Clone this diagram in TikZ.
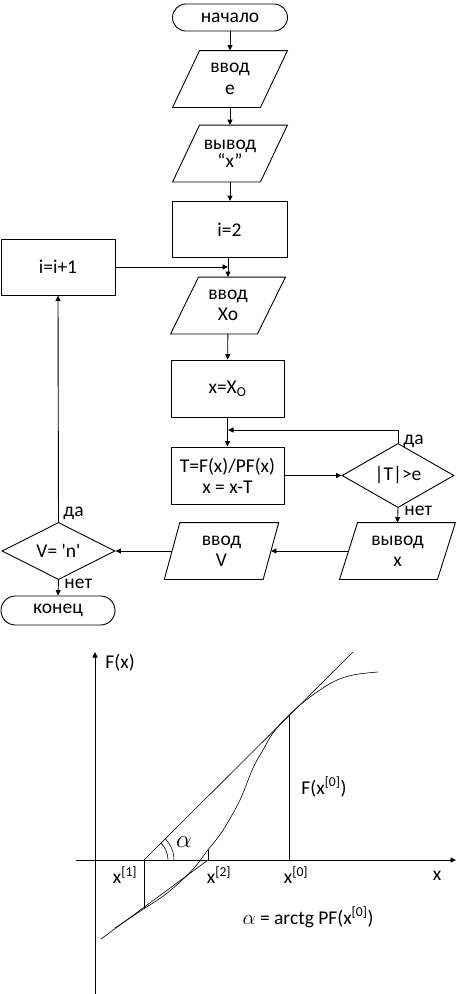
\documentclass[tikz,border=0pt]{standalone}
\usepackage{fontspec}
\setmainfont{Carlito}[Ligatures=TeXOff]
\usetikzlibrary{shapes.geometric,arrows.meta}
\newcommand\iodraw[2]{\draw ([xshift=#2/2]#1.north west) -- ([xshift=#2/2]#1.north east) -- ([xshift=-#2/2]#1.south east) -- ([xshift=-#2/2]#1.south west) -- cycle;}
\begin{document}
\begin{tikzpicture}[x=1pt,y=-1pt,
  every node/.style={font=\fontsize{19.5}{21}\selectfont, align=center, inner sep=0pt},
  term/.style={draw, rounded corners=13.5pt, minimum width=115pt, minimum height=27pt},
  proc/.style={draw, minimum width=114pt, minimum height=56pt},
  iobox/.style={minimum height=56pt},
  dec/.style={draw, diamond, minimum width=113pt, minimum height=56pt},
  arr/.style={-{Triangle[length=5.5pt,width=5pt]}},
  lbl/.style={anchor=west},
  thin/.style={line width=0.6pt},
  line width=0.9pt]
\useasboundingbox (0,0) rectangle (456,994);

% flowchart nodes
\node[term] (start) at (230,17.5) {начало};
\node[iobox, minimum width=87pt] (inE) at (230,79) {ввод\\[1pt]e};
\node[iobox, minimum width=87pt] (outX) at (230,153.5) {вывод\\[-3pt]“x”};
\node[proc, minimum width=115pt] (i2) at (229.5,229.5) {i=2};
\node[proc] (inc) at (58,267) {i=i+1};
\node[iobox, minimum width=86pt] (inX0) at (228,305.5) {ввод\\Xo};
\node[proc, minimum width=113pt, minimum height=57pt] (xeq) at (227.5,388.5) {x=X\textsubscript{O}};
\node[proc, minimum width=113pt, minimum height=57pt] (T) at (227.5,475.5) {T=F(x)/PF(x)\\x = x-T};
\node[dec, minimum width=112pt, minimum height=55pt] (d1) at (398,475.5) {|T|>e};
\node[iobox, minimum width=97pt] (outx) at (397.5,551) {вывод\\x};
\node[iobox, minimum width=98pt] (inV) at (221.5,551) {ввод\\V};
\node[dec] (d2) at (58.5,551) {V= 'n'};
\node[term, minimum width=114pt, minimum height=29pt, rounded corners=14.5pt] (end) at (58,610.5) {конец};

\iodraw{inE}{27}
\iodraw{outX}{27}
\iodraw{inX0}{28}
\iodraw{outx}{18}
\iodraw{inV}{15.5}

\coordinate (j1) at (228,267);
\coordinate (j2) at (228,430);

% connectors
\draw[arr] (start) -- (inE);
\draw[arr] (inE) -- (outX);
\draw[arr] (outX) -- (outX.south |- i2.north);
\draw[arr] (i2.south -| inX0.north) -- (inX0);
\draw[arr] (inc.east) -- (j1);
\draw[arr] (inX0) -- (xeq);
\draw[arr] (xeq) -- (T);
\draw[arr] (d1.north) |- (j2);
\draw[arr] (T.east) -- (d1.west);
\draw[arr] (d1.south) -- (outx.north);
\draw[arr] (outx.west) -- (inV.east);
\draw[arr] (inV.west) -- (d2.east);
\draw[arr] (d2.north) -- (inc.south);
\draw[arr] (d2.south) -- (end.north);

\node[lbl] (da1) at (403,441) {да};
\node[lbl] (net1) at (404,511) {нет};
\node[lbl] (da2) at (63,513) {да};
\node[lbl] (net2) at (64,584) {нет};

% graph
\coordinate (O) at (95,860);
\draw[arr] (95,994) -- (95,652);
\draw[arr] (76,860) -- (456,860);
\node[anchor=west] (Fx) at (105,663) {F(x)};
\node (xl) at (437,876) {x};

\draw[thin] (144,860) -- (353,652);
\draw[thin] (101,939) -- (208,860);
\draw[thin] plot[smooth, tension=0.6] coordinates {(115,928) (145,908) (162,897) (180,882) (195,867) (207,851) (216,840) (225,827) (240,800) (253,768) (263,750) (273,733) (289,715) (310,697) (333,682) (353,675) (378,672)};
\draw (289,715) -- (289,860);
\draw (144,860) -- (144,908);
\draw[thin] (208,860) -- (208,850);
\draw[thin] (168,860) arc[start angle=0, end angle=-45, radius=24];
\draw[thin] (174,860) arc[start angle=0, end angle=-45, radius=30];
\node (al) at (184,842) {\fontsize{23}{23}\selectfont$\alpha$};

\node (x1) at (125,875) {x\textsuperscript{[1]}};
\node (x2) at (219,875) {x\textsuperscript{[2]}};
\node (x0) at (296,875) {x\textsuperscript{[0]}};
\node[anchor=west] (Fx0) at (301,787) {F(x\textsuperscript{[0]})};
\node (form) at (308,917) {{\fontsize{22}{22}\selectfont$\alpha$} = arctg PF(x\textsuperscript{[0]})};
\end{tikzpicture}
\end{document}
